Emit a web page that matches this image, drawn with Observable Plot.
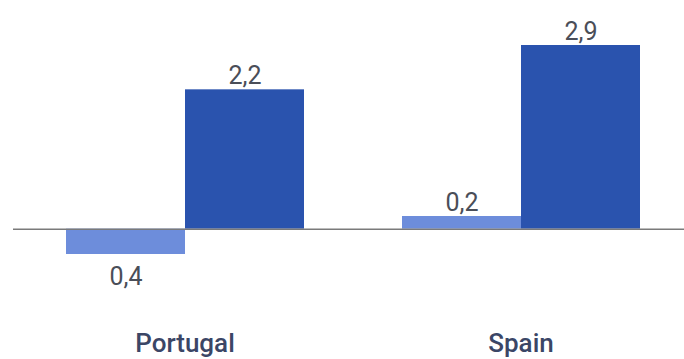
<!DOCTYPE html>
<html>
<head>
<meta charset="utf-8">
<script src="https://cdn.jsdelivr.net/npm/d3@7"></script>
<script src="https://cdn.jsdelivr.net/npm/@observablehq/plot@0.6"></script>
<style>
  html, body { margin: 0; padding: 0; background: #ffffff; }
  #chart { width: 684px; height: 359px; }
</style>
</head>
<body>
<div id="chart"></div>
<script>
const countries = ["Portugal", "Spain"];
const seriesNames = ["A", "B"];
const seriesA = [-0.4, 0.2];
const seriesB = [2.2, 2.9];
const colors = ["#6d8ddb", "#2a53ae"];

const data = [];
countries.forEach((c, i) => {
  data.push({country: c, series: seriesNames[0], value: seriesA[i]});
  data.push({country: c, series: seriesNames[1], value: seriesB[i]});
});
const fmt = v => Math.abs(v).toFixed(1).replace(".", ",");

const chart = Plot.plot({
  width: 684,
  height: 359,
  marginLeft: 65,
  marginRight: 43,
  marginTop: 26,
  marginBottom: 67,
  style: {fontFamily: "Roboto, sans-serif", background: "#ffffff"},
  fx: {domain: countries, padding: 0.288, label: null},
  x: {domain: seriesNames, padding: 0, axis: null},
  y: {domain: [-1, 3.2], axis: null},
  color: {domain: seriesNames, range: colors},
  marks: [
    Plot.barY(data, {fx: "country", x: "series", y: "value", fill: "series"}),
    Plot.ruleY([0], {stroke: "#7a7a7a", strokeWidth: 1.5, insetLeft: -52, insetRight: -45}),
    Plot.text(data.filter(d => d.value >= 0), {
      fx: "country", x: "series", y: "value", text: d => fmt(d.value),
      lineAnchor: "bottom", dy: -6, fontSize: 25, fill: "#4a4e58"
    }),
    Plot.text(data.filter(d => d.value < 0), {
      fx: "country", x: "series", y: "value", text: d => fmt(d.value),
      lineAnchor: "top", dy: 13, fontSize: 25, fill: "#4a4e58"
    }),
    Plot.axisFx({anchor: "bottom", tickSize: 0, tickPadding: 41, fontSize: 26, fontWeight: 500, fill: "#3b4666", label: null, style: {letterSpacing: "0.5px"}})
  ]
});
document.getElementById("chart").appendChild(chart);
</script>
</body>
</html>
